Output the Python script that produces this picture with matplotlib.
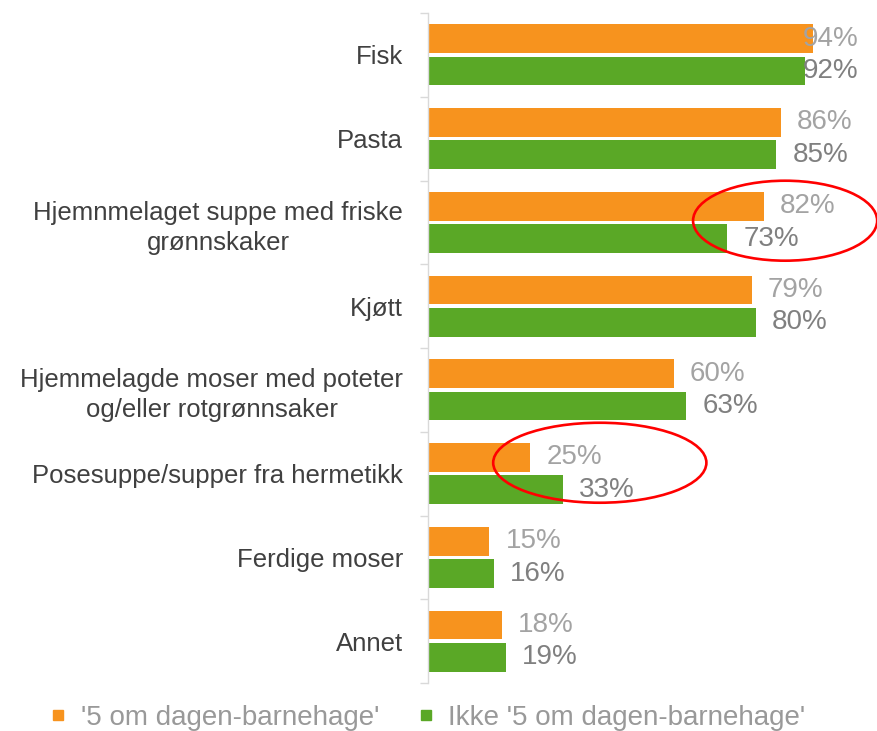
import matplotlib
matplotlib.use('Agg')
import matplotlib.pyplot as plt
from matplotlib.patches import Ellipse
from matplotlib.lines import Line2D

plt.rcParams['font.family'] = ['Liberation Sans', 'DejaVu Sans']

categories = ['Fisk', 'Pasta', 'Hjemnmelaget suppe med friske\ngrønnskaker', 'Kjøtt',
              'Hjemmelagde moser med poteter\nog/eller rotgrønnsaker',
              'Posesuppe/supper fra hermetikk', 'Ferdige moser', 'Annet']
series_names = ["'5 om dagen-barnehage'", "Ikke '5 om dagen-barnehage'"]
values_5om = [94, 86, 82, 79, 60, 25, 15, 18]
values_ikke = [92, 85, 73, 80, 63, 33, 16, 19]

orange = '#f7931e'
green = '#5aa826'
label_grey = ['#a3a3a3', '#808080']

fig = plt.figure(figsize=(8.78, 7.31), dpi=100)
ax = fig.add_axes([428 / 878, 48 / 731, 410 / 878, 670 / 731])

bar_h = 0.345
offsets = [-0.193, 0.193]
ypos = list(range(len(categories)))

for vals, off, col, lcol in zip([values_5om, values_ikke], offsets, [orange, green], label_grey):
    ys = [y + off for y in ypos]
    ax.barh(ys, vals, height=bar_h, color=col, edgecolor='none')
    for v, y in zip(vals, ys):
        # labels near the right edge get pushed back inside the figure
        if v > 87:
            ax.text(104.9, y, f'{v}%', ha='right', va='center', fontsize=20, color=lcol, clip_on=False)
        else:
            ax.annotate(f'{v}%', (v, y), xytext=(11.5, 0), textcoords='offset points',
                        ha='left', va='center', fontsize=20, color=lcol, annotation_clip=False)

ax.set_xlim(0, 100)
ax.set_ylim(len(categories) - 0.5, -0.5)
ax.set_xticks([])
ax.set_yticks(ypos)
ax.set_yticklabels(categories, fontsize=18.5, color='#404040')
for lbl in ax.get_yticklabels():
    lbl.set_multialignment('center')
    lbl.set_linespacing(1.3)
ax.tick_params(axis='y', which='major', length=0, pad=18)
ax.set_yticks([y - 0.5 for y in range(len(categories) + 1)], minor=True)
ax.tick_params(axis='y', which='minor', length=6, color='#d9d9d9', width=1)

for s in ['top', 'right', 'bottom']:
    ax.spines[s].set_visible(False)
ax.spines['left'].set_color('#d9d9d9')
ax.spines['left'].set_linewidth(1)

# red circles highlighting two groups
ax.add_patch(Ellipse((87.1, 1.98), 44.9, 0.955, fill=False, edgecolor='red', lw=1.9, clip_on=False))
ax.add_patch(Ellipse((41.9, 4.87), 52.0, 0.955, fill=False, edgecolor='red', lw=1.9, clip_on=False))

handles = [Line2D([], [], marker='s', linestyle='none', markersize=7, color=c) for c in [orange, green]]
fig.legend(handles, series_names, loc='center', bbox_to_anchor=(425 / 878, 13 / 731), ncol=2,
           frameon=False, fontsize=20, labelcolor='#999999', handletextpad=0.3,
           columnspacing=1.2, handlelength=1.0)

fig.savefig('out.png', dpi=100)
